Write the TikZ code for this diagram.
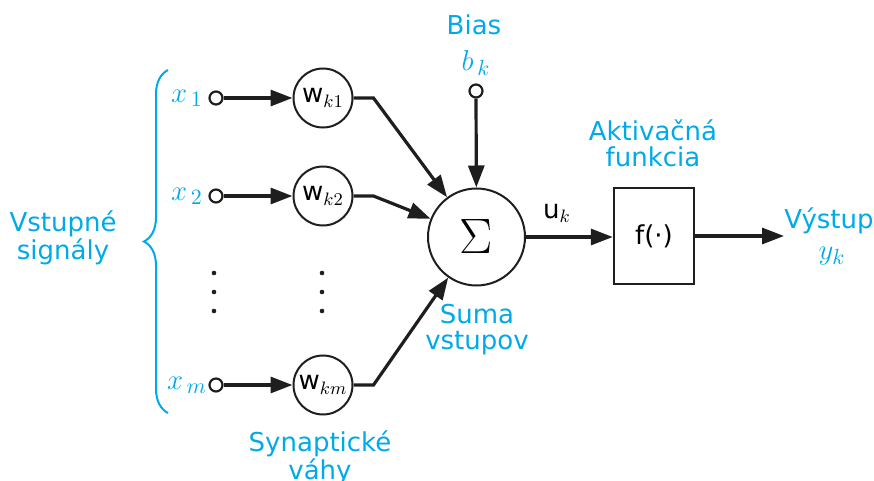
\documentclass[tikz,border=0pt]{standalone}
\usepackage{fontspec}
\setmainfont{DejaVu Sans}
\usepackage{tikz}
\usetikzlibrary{arrows.meta, positioning, calc, decorations.pathreplacing}
\definecolor{labelcolor}{RGB}{0, 170, 232}
\definecolor{linecolor}{RGB}{30, 30, 30}

\begin{document}
\begin{tikzpicture}[x=0.5pt, y=-0.5pt,
    lbl/.style={text=labelcolor, font=\fontsize{13}{13}\selectfont, align=center, inner sep=0pt},
    mlbl/.style={text=labelcolor, font=\fontsize{15}{15}\selectfont, inner sep=0pt},
    term/.style={draw=linecolor, circle, line width=1.1pt, fill=white, minimum size=6.5pt, inner sep=0pt},
    weight/.style={draw=linecolor, circle, line width=1pt, minimum size=29.5pt, inner sep=0pt, font=\fontsize{13}{13}\selectfont},
    conn/.style={draw=linecolor, line width=1.6pt, -{Triangle[length=11pt, width=8pt]}}]
    \useasboundingbox (0,0) rectangle (874,481);

    % Input signals
    \node[term] (in1) at (216, 98) {};
    \node[term] (in2) at (216, 196) {};
    \node[term] (inm) at (216, 385) {};
    \node[mlbl] (x1) at (187, 98) {$x_{\,1}$};
    \node[mlbl] (x2) at (187, 196) {$x_{\,2}$};
    \node[mlbl] (xm) at (187, 385) {$x_{\,m}$};

    % Synaptic weights
    \node[weight] (w1) at (323, 98) {w$_{k1}$};
    \node[weight] (w2) at (323, 196) {w$_{k2}$};
    \node[weight] (wm) at (323, 385) {w$_{km}$};

    % Dots
    \foreach \py in {273, 292, 311} {
        \fill[linecolor] (214, \py) circle (2.3);
        \fill[linecolor] (322, \py) circle (2.3);
    }

    % Summing junction
    \node[draw=linecolor, circle, line width=1pt, minimum size=48.5pt, inner sep=0pt,
          font=\fontsize{24}{24}\selectfont] (sum) at (476.5, 237) {$\Sigma$};
    \node[term] (bias) at (476, 91) {};

    % Activation function
    \node[draw=linecolor, line width=1.2pt, minimum width=40pt, minimum height=48pt, inner sep=0pt,
          font=\fontsize{13}{13}\selectfont] (act) at (654, 236) {f(·)};
    \coordinate (out) at (784, 236);

    % Connectors
    \draw[conn] (in1) -- (w1);
    \draw[conn] (in2) -- (w2);
    \draw[conn] (inm) -- (wm);
    \draw[conn] (w1.east) -- ++(20, 0) -- (sum);
    \draw[conn] (w2.east) -- ++(20, 0) -- (sum);
    \draw[conn] (wm.east) -- ++(20, 0) -- (sum);
    \draw[conn] (bias) -- (sum);
    \draw[conn] (sum) -- (sum -| act.west);
    \draw[conn] (act.east) -- (out);

    % Labels
    \draw[labelcolor, line width=1pt, decorate, decoration={brace, amplitude=12pt}]
        (168, 413) -- (168, 70);
    \node[lbl] (inputs) at (63, 238) {Vstupné\\signály};
    \node[lbl] (biaslbl) at (474, 25) {Bias};
    \node[mlbl] (bk) at (476, 63) {$b_{\,k}$};
    \node[font=\fontsize{13}{13}\selectfont, inner sep=0pt] (uk) at (557, 213) {u$_k$};
    \node[lbl] (sumlbl) at (477, 330) {Suma\\vstupov};
    \node[lbl] (actlbl) at (653, 143) {Aktivačná\\funkcia};
    \node[lbl] (outlbl) at (829, 221) {Výstup};
    \node[mlbl] (yk) at (832, 256) {$y_k$};
    \node[lbl] (wlbl) at (320, 458) {Synaptické\\váhy};
\end{tikzpicture}
\end{document}
